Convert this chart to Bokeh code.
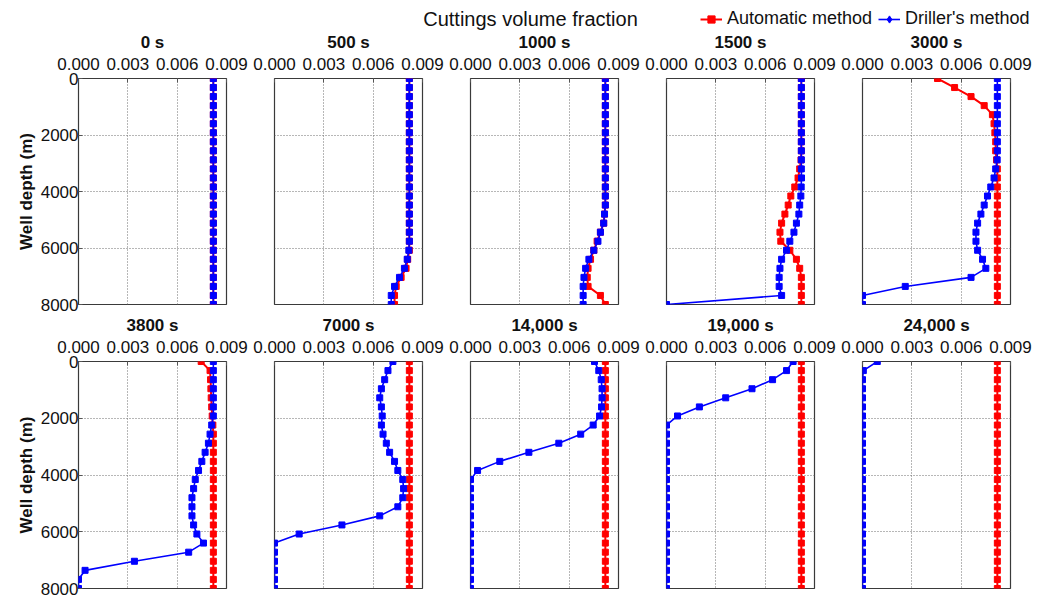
from bokeh.plotting import figure
from bokeh.models import (Range1d, FixedTicker, PrintfTickFormatter, Legend, LegendItem,
                          Label, Grid, BasicTickFormatter)
from bokeh.layouts import column, row
from bokeh.embed import file_html
from bokeh.resources import INLINE

FONT = "Liberation Sans"
RED = "#ff0000"
BLUE = "#0000ff"
NAN = float("nan")

# ---------------- data ----------------
depth = [0, 320, 640, 960, 1280, 1600, 1920, 2240, 2560, 2880, 3200, 3520, 3840,
         4160, 4480, 4800, 5120, 5440, 5760, 6080, 6400, 6720, 7040, 7360, 7680, 8000]

panel_titles = ["0 s", "500 s", "1000 s", "1500 s", "3000 s",
                "3800 s", "7000 s", "14,000 s", "19,000 s", "24,000 s"]

x_ticks = [0.0, 0.003, 0.006, 0.009]
y_ticks = [0, 2000, 4000, 6000, 8000]

auto_0 = [0.0082, 0.0082, 0.0082, 0.0082, 0.0082, 0.0082, 0.0082, 0.0082, 0.0082, 0.0082,
          0.0082, 0.0082, 0.0082, 0.0082, 0.0082, 0.0082, 0.0082, 0.0082, 0.0082, 0.0082,
          0.0082, 0.0082, 0.0082, 0.0082, 0.0082, 0.0082]
driller_0 = [0.0082, 0.0082, 0.0082, 0.0082, 0.0082, 0.0082, 0.0082, 0.0082, 0.0082, 0.0082,
             0.0082, 0.0082, 0.0082, 0.0082, 0.0082, 0.0082, 0.0082, 0.0082, 0.0082, 0.0082,
             0.0082, 0.0082, 0.0082, 0.0082, 0.0082, 0.0082]

auto_500 = [0.0082, 0.0082, 0.0082, 0.0082, 0.0082, 0.0082, 0.0082, 0.0082, 0.0082, 0.0082,
            0.0082, 0.0082, 0.0082, 0.0082, 0.0082, 0.0082, 0.0082, 0.0082, 0.0082, 0.0082,
            0.0081, 0.0080, 0.0077, 0.0074, 0.0073, 0.0073]
driller_500 = [0.0082, 0.0082, 0.0082, 0.0082, 0.0082, 0.0082, 0.0082, 0.0082, 0.0082, 0.0082,
               0.0082, 0.0082, 0.0082, 0.0082, 0.0082, 0.0082, 0.0082, 0.0082, 0.0082, 0.00817,
               0.00807, 0.0079, 0.0076, 0.0073, 0.0071, 0.0071]

auto_1000 = [0.0082, 0.0082, 0.0082, 0.0082, 0.0082, 0.0082, 0.0082, 0.0082, 0.0082, 0.0082,
             0.0082, 0.0082, 0.0082, 0.0082, 0.0082, 0.00815, 0.0081, 0.0079, 0.0077, 0.0075,
             0.0073, 0.00715, 0.0071, 0.00715, 0.0079, 0.0082]
driller_1000 = [0.0082, 0.0082, 0.0082, 0.0082, 0.0082, 0.0082, 0.0082, 0.0082, 0.0082, 0.0082,
                0.0082, 0.0082, 0.0082, 0.0082, 0.0082, 0.00815, 0.0081, 0.0079, 0.00775, 0.0075,
                0.0072, 0.0070, 0.0069, 0.00685, 0.00685, 0.00685]

auto_1500 = [0.0082, 0.0082, 0.0082, 0.0082, 0.0082, 0.0082, 0.0082, 0.0082, 0.0082, 0.00818,
             0.0081, 0.0080, 0.0078, 0.00756, 0.0074, 0.0072, 0.0070, 0.0069, 0.00695, 0.0075,
             0.0079, 0.0081, 0.0082, 0.0082, 0.0082, 0.0082]
driller_1500 = [0.0082, 0.0082, 0.0082, 0.0082, 0.0082, 0.0082, 0.0082, 0.0082, 0.0082, 0.0082,
                0.0082, 0.00821, 0.00819, 0.00817, 0.0081, 0.00805, 0.0079, 0.00775, 0.0075, 0.0073,
                0.0070, 0.0069, 0.00685, 0.00685, 0.0070, 0.0]

auto_3000 = [0.00456, 0.0056, 0.0066, 0.0074, 0.0079, 0.0080, 0.00805, 0.0081, 0.0081, 0.00815,
             0.0082, 0.0082, 0.0082, 0.0082, 0.0082, 0.0082, 0.0082, 0.0082, 0.0082, 0.0082,
             0.0082, 0.0082, 0.0082, 0.0082, 0.0082, 0.0082]
driller_3000 = [0.0082, 0.0082, 0.0082, 0.0082, 0.0082, 0.0082, 0.0082, 0.0082, 0.0082, 0.00819,
                0.0081, 0.0080, 0.0078, 0.0076, 0.0074, 0.0072, 0.0070, 0.0069, 0.0069, 0.0070,
                0.0073, 0.0075, 0.0066, 0.0026, 0.0, 0.0]

auto_3800 = [0.00746, 0.0080, 0.00803, 0.00805, 0.00807, 0.0081, 0.00813, 0.00817, 0.0082, 0.0082,
             0.0082, 0.0082, 0.0082, 0.0082, 0.0082, 0.0082, 0.0082, 0.0082, 0.0082, 0.0082,
             0.0082, 0.0082, 0.0082, 0.0082, 0.0082, 0.0082]
driller_3800 = [0.0082, 0.0082, 0.0082, 0.0082, 0.0082, 0.0082, 0.0082, 0.0081, 0.0080, 0.0079,
                0.0077, 0.0075, 0.0073, 0.0071, 0.0070, 0.0069, 0.0069, 0.0069, 0.0070, 0.0072,
                0.0076, 0.0067, 0.0034, 0.0004, 0.0, 0.0]

auto_7000 = [0.0082, 0.0082, 0.0082, 0.0082, 0.0082, 0.0082, 0.0082, 0.0082, 0.0082, 0.0082,
             0.0082, 0.0082, 0.0082, 0.0082, 0.0082, 0.0082, 0.0082, 0.0082, 0.0082, 0.0082,
             0.0082, 0.0082, 0.0082, 0.0082, 0.0082, 0.0082]
driller_7000 = [0.0072, 0.0069, 0.0067, 0.0065, 0.0064, 0.0065, 0.00655, 0.0065, 0.0066, 0.0068,
                0.0070, 0.0073, 0.0075, 0.0078, 0.00785, 0.0078, 0.0075, 0.0064, 0.0041, 0.0015,
                0.0, 0.0, 0.0, 0.0, 0.0, 0.0]

auto_14000 = [0.0082, 0.0082, 0.0082, 0.0082, 0.0082, 0.0082, 0.0082, 0.0082, 0.0082, 0.0082,
              0.0082, 0.0082, 0.0082, 0.0082, 0.0082, 0.0082, 0.0082, 0.0082, 0.0082, 0.0082,
              0.0082, 0.0082, 0.0082, 0.0082, 0.0082, 0.0082]
driller_14000 = [0.00754, 0.0078, 0.00795, 0.0080, 0.0080, 0.00797, 0.00785, 0.00746, 0.0067, 0.00537,
                 0.00355, 0.00178, 0.00043, 0.0, 0.0, 0.0, 0.0, 0.0, 0.0, 0.0,
                 0.0, 0.0, 0.0, 0.0, 0.0, 0.0]

auto_19000 = [0.0082, 0.0082, 0.0082, 0.0082, 0.0082, 0.0082, 0.0082, 0.0082, 0.0082, 0.0082,
              0.0082, 0.0082, 0.0082, 0.0082, 0.0082, 0.0082, 0.0082, 0.0082, 0.0082, 0.0082,
              0.0082, 0.0082, 0.0082, 0.0082, 0.0082, 0.0082]
driller_19000 = [0.0077, 0.0073, 0.00645, 0.0052, 0.0036, 0.0020, 0.00067, 0.0, 0.0, 0.0,
                 0.0, 0.0, 0.0, 0.0, 0.0, 0.0, 0.0, 0.0, 0.0, 0.0,
                 0.0, 0.0, 0.0, 0.0, 0.0, 0.0]

auto_24000 = [0.0082, 0.0082, 0.0082, 0.0082, 0.0082, 0.0082, 0.0082, 0.0082, 0.0082, 0.0082,
              0.0082, 0.0082, 0.0082, 0.0082, 0.0082, 0.0082, 0.0082, 0.0082, 0.0082, 0.0082,
              0.0082, 0.0082, 0.0082, 0.0082, 0.0082, 0.0082]
driller_24000 = [0.0009, 0.00005, 0.0, 0.0, 0.0, 0.0, 0.0, 0.0, 0.0, 0.0,
                 0.0, 0.0, 0.0, 0.0, 0.0, 0.0, 0.0, 0.0, 0.0, 0.0,
                 0.0, 0.0, 0.0, 0.0, 0.0, 0.0]

auto_series = [auto_0, auto_500, auto_1000, auto_1500, auto_3000,
               auto_3800, auto_7000, auto_14000, auto_19000, auto_24000]
driller_series = [driller_0, driller_500, driller_1000, driller_1500, driller_3000,
                  driller_3800, driller_7000, driller_14000, driller_19000, driller_24000]

# ---------------- panels ----------------
HEADER_H = 30
figs = []
for i in range(10):
    first = (i % 5 == 0)
    toprow = (i < 5)
    # row 1: starts at y=26 -> 52 + 226 + 10 = 288
    # row 2: starts at y=309 -> 52 + 227 + 10 = 289
    p = figure(width=248 if first else 196, height=288 if toprow else 289,
               x_range=Range1d(0, 0.009), y_range=Range1d(8000, 0),
               x_axis_location="above", y_axis_location="left" if first else None,
               output_backend="svg", toolbar_location=None,
               min_border_left=78 if first else 26, min_border_right=22,
               min_border_top=52, min_border_bottom=10,
               background_fill_color="white", border_fill_color=None)
    if not toprow:
        p.margin = (-5, 0, 0, 0)
    p.title.text = panel_titles[i]
    p.title.text_font = FONT
    p.title.text_font_style = "bold"
    p.title.text_font_size = "17px"
    p.title.align = "center"
    p.title.text_color = "#111111"
    p.title.standoff = 6

    xa = p.xaxis[0]
    xa.ticker = FixedTicker(ticks=x_ticks, minor_ticks=[])
    xa.formatter = PrintfTickFormatter(format="%.3f")
    xa.major_label_text_font = FONT
    xa.major_label_text_font_size = "17px"
    xa.major_label_text_color = "#111111"
    xa.major_tick_in = 4
    xa.major_tick_out = 0
    xa.minor_tick_in = 0
    xa.minor_tick_out = 0
    xa.major_tick_line_color = "#555555"
    xa.axis_line_color = None
    xa.major_label_standoff = 9

    if first:
        ya = p.yaxis[0]
        ya.ticker = FixedTicker(ticks=y_ticks, minor_ticks=[])
        ya.formatter = BasicTickFormatter(use_scientific=False)
        ya.major_label_text_font = FONT
        ya.major_label_text_font_size = "17px"
        ya.major_label_text_color = "#111111"
        ya.major_tick_in = 4
        ya.major_tick_out = 0
        ya.minor_tick_in = 0
        ya.minor_tick_out = 0
        ya.major_tick_line_color = "#555555"
        ya.axis_line_color = None
        ya.major_label_standoff = 0
        ya.axis_label = "Well depth (m)"
        ya.axis_label_text_font = FONT
        ya.axis_label_text_font_style = "bold"
        ya.axis_label_text_font_size = "17px"
        ya.axis_label_text_color = "#111111"
        ya.axis_label_standoff = 2

    for g in p.xgrid:
        g.ticker = FixedTicker(ticks=x_ticks, minor_ticks=[])
    if len(p.ygrid) == 0:
        p.add_layout(Grid(dimension=1, ticker=FixedTicker(ticks=y_ticks, minor_ticks=[])), "center")
    for g in p.ygrid:
        g.ticker = FixedTicker(ticks=y_ticks, minor_ticks=[])
    p.grid.grid_line_color = "#6e6e6e"
    p.grid.grid_line_dash = "1 2"
    p.grid.grid_line_width = 1

    p.outline_line_color = "#3a3a3a"
    p.outline_line_width = 1.2

    p.line(x=auto_series[i], y=depth, line_color=RED, line_width=2)
    p.scatter(x=auto_series[i], y=depth, marker="square", size=6,
              fill_color=RED, line_color=RED)
    p.line(x=driller_series[i], y=depth, line_color=BLUE, line_width=1.6)
    p.scatter(x=driller_series[i], y=depth, marker="square", size=6,
              fill_color=BLUE, line_color=BLUE)
    figs.append(p)

# ---------------- header: title + legend ----------------
h = figure(width=1032, height=HEADER_H, x_range=Range1d(0, 1032), y_range=Range1d(0, HEADER_H),
           x_axis_location=None, y_axis_location=None, min_border=0,
           output_backend="svg", toolbar_location=None,
           background_fill_color=None, border_fill_color=None)
h.margin = (0, 0, -4, 0)
h.grid.visible = False
h.outline_line_color = None
h.add_layout(Label(x=530, y=HEADER_H - 18, text="Cuttings volume fraction", text_align="center",
                   text_baseline="middle", text_font=FONT, text_font_size="20px",
                   text_color="#111111"))
# legend-only renderers (a single NaN point: nothing is drawn in the plot area)
rl = h.line(x=[NAN], y=[NAN], line_color=RED, line_width=2)
rs = h.scatter(x=[NAN], y=[NAN], marker="square", size=6, fill_color=RED, line_color=RED)
bl = h.line(x=[NAN], y=[NAN], line_color=BLUE, line_width=1.6)
bs = h.scatter(x=[NAN], y=[NAN], marker="diamond", size=7, fill_color=BLUE, line_color=BLUE)
legend = Legend(items=[LegendItem(label="Automatic method", renderers=[rl, rs]),
                       LegendItem(label="Driller's method", renderers=[bl, bs])],
                orientation="horizontal", location=(700, 1),
                glyph_width=22, glyph_height=18, label_standoff=5, spacing=6,
                padding=0, margin=0, border_line_color=None, background_fill_alpha=0,
                label_text_font=FONT, label_text_font_size="18px", label_text_color="#111111")
h.add_layout(legend, "center")

layout = column(h, row(*figs[:5]), row(*figs[5:]))
open("out.html", "w").write(file_html(layout, INLINE))
